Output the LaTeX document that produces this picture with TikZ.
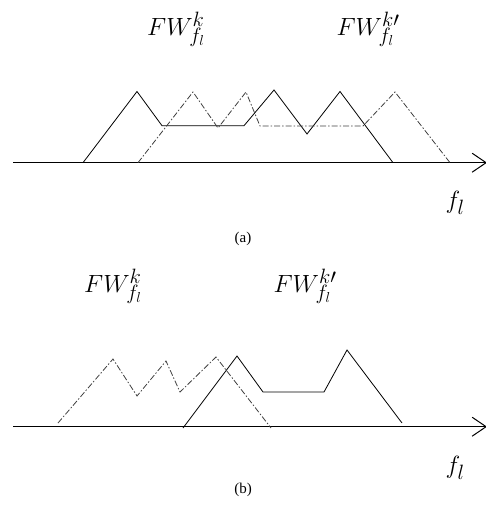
\documentclass[tikz,border=0pt]{standalone}
\usepackage{fontspec}
\usetikzlibrary{arrows.meta}
\newfontfamily\capfont{Liberation Serif}
\begin{document}
\begin{tikzpicture}[x=1pt,y=-1pt,
  axis/.style={line width=1.3pt,-{Straight Barb[length=14pt,width=19pt,line width=1pt]}},
  solidc/.style={line width=0.8pt,line join=miter},
  dashc/.style={line width=0.8pt,black!75,dash pattern=on 6pt off 2pt on 1.5pt off 2pt},
  lab/.style={inner sep=0pt,font=\fontsize{29}{32}\selectfont},
  captxt/.style={inner sep=0pt,font=\capfont\fontsize{15}{17}\selectfont}]
\useasboundingbox (0,0) rectangle (486,521);
% ---------- (a)
\coordinate (a0) at (13,162.7);
\coordinate (a1) at (487,162.7);
\draw[axis] (a0) -- (a1);
\draw[solidc] (83,162.7) -- (137,91.5) -- (162,125.7) -- (244,125.7) -- (274,90) -- (307,134) -- (340,91.5) -- (393,162.7);
\draw[dashc] (138,162.7) -- (193,92) -- (218,128) -- (246,92) -- (260,126) -- (363,126) -- (395,92) -- (450,162.7);
\node[lab] (la1) at (176,29) {$FW^{k}_{f_l}$};
\node[lab] (la2) at (368,29) {$FW^{k\prime}_{f_l}$};
\node[lab] (fa) at (455,203) {$f_l$};
\node[captxt] (ca) at (243,239) {(a)};
% ---------- (b)
\coordinate (b0) at (13,426.7);
\coordinate (b1) at (487,426.7);
\draw[axis] (b0) -- (b1);
\draw[dashc] (58,423) -- (113,359) -- (137,396) -- (166,361) -- (180,392) -- (216,357) -- (271,428);
\draw[solidc] (183,428) -- (237,356) -- (263,392) -- (324,392) -- (347,350) -- (402,423);
\node[lab] (lb1) at (113,286) {$FW^{k}_{f_l}$};
\node[lab] (lb2) at (305,286) {$FW^{k\prime}_{f_l}$};
\node[lab] (fb) at (455,468) {$f_l$};
\node[captxt] (cb) at (243,490) {(b)};
\end{tikzpicture}
\end{document}
